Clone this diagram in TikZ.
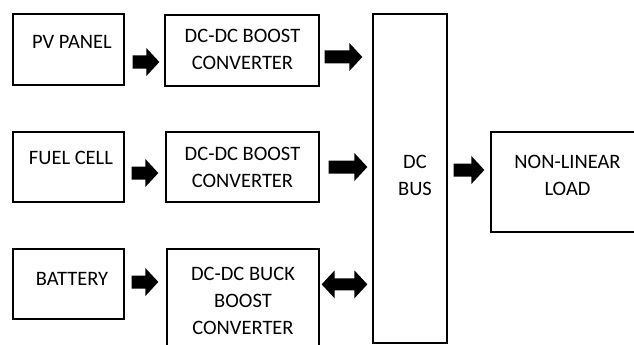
\documentclass[tikz,border=0pt]{standalone}
\usepackage{fontspec}
\setmainfont{Carlito}
\usetikzlibrary{calc}
\begin{document}
\begin{tikzpicture}[x=1pt,y=-1pt,
  box/.style={draw,line width=1.3pt,inner sep=0pt},
  lbl/.style={font=\fontsize{20.5}{27}\selectfont,align=center,inner sep=0pt,anchor=north},
  blk/.style={fill=black,draw=none,to path={let \p1=(\tikztostart), \p2=(\tikztotarget) in
    ({\x1},{\y1+6.5pt}) -- ({\x2-13pt},{\y1+6.5pt}) -- ({\x2-13pt},{\y1+14pt}) -- ({\x2},{\y1})
    -- ({\x2-13pt},{\y1-14pt}) -- ({\x2-13pt},{\y1-6.5pt}) -- ({\x1},{\y1-6.5pt}) -- cycle}},
  dblk/.style={fill=black,draw=none,to path={let \p1=(\tikztostart), \p2=(\tikztotarget) in
    ({\x1},{\y1}) -- ({\x1+13pt},{\y1+14pt}) -- ({\x1+13pt},{\y1+6pt}) -- ({\x2-13pt},{\y1+6pt})
    -- ({\x2-13pt},{\y1+14pt}) -- ({\x2},{\y1}) -- ({\x2-13pt},{\y1-14pt}) -- ({\x2-13pt},{\y1-6pt})
    -- ({\x1+13pt},{\y1-6pt}) -- ({\x1+13pt},{\y1-14pt}) -- cycle}}]
\useasboundingbox (0,0) rectangle (634,345);
\clip (0,0) rectangle (634,345);
\fill[white] (0,0) rectangle (634,345);
% boxes
\node[box,minimum width=111pt,minimum height=71pt] (pv) at (68.5,49.5) {};
\node[box,minimum width=154pt,minimum height=71pt] (c1) at (242,50.5) {};
\node[box,minimum width=111pt,minimum height=70pt] (fc) at (68.5,167) {};
\node[box,minimum width=153pt,minimum height=70pt] (c2) at (242.5,167) {};
\node[box,minimum width=111pt,minimum height=70pt] (bat) at (68.5,284) {};
\node[box,minimum width=152pt,minimum height=101pt] (c3) at (243,299.5) {};
\node[box,minimum width=74pt,minimum height=329pt] (bus) at (410,178.5) {};
\node[box,minimum width=149pt,minimum height=100pt] (load) at (565.5,182) {};
% labels
\node[lbl] (tpv) at (72,35) {PV PANEL};
\node[lbl] (tc1) at (242.5,29) {DC-DC BOOST\\CONVERTER};
\node[lbl] (tfc) at (71,151) {FUEL CELL};
\node[lbl] (tc2) at (242.5,147) {DC-DC BOOST\\CONVERTER};
\node[lbl] (tbat) at (72,272) {BATTERY};
\node[lbl] (tc3) at (243,267) {DC-DC BUCK\\BOOST\\CONVERTER};
\node[lbl] (tbus) at (415,155) {DC\\BUS};
\node[lbl] (tload) at (567.5,155) {NON-LINEAR\\LOAD};
% arrows
\fill[blk] ($(pv.east)+(8,12.5)$) to ($(c1.west)+(-5,12.5)$);
\fill[blk] ($(c1.east)+(5,6.5)$) to ($(bus.west)+(-10,-121.5)$);
\fill[blk] ($(fc.east)+(7,6)$) to ($(c2.west)+(-7,6)$);
\fill[blk] ($(c2.east)+(9,0)$) to ($(bus.west)+(-5,-11.5)$);
\fill[blk] ($(bat.east)+(7,-2)$) to ($(c3.north west)+(-8,35)$);
\fill[dblk] ($(c3.north east)+(2,36)$) to ($(bus.west)+(-5,106.5)$);
\fill[blk] ($(bus.east)+(6,-8.5)$) to ($(load.west)+(-6,-11.5)$);
\end{tikzpicture}
\end{document}
